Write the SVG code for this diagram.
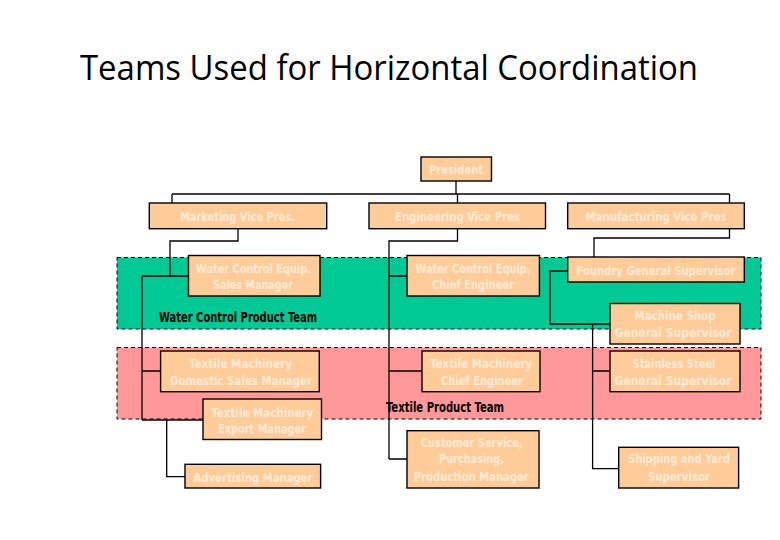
<svg xmlns="http://www.w3.org/2000/svg" width="780" height="540" viewBox="0 0 780 540">
<style>
.bg{fill:#ffffff}
.band{stroke:#000;stroke-width:1;stroke-dasharray:4 3}
.green{fill:#00C995}
.pink{fill:#FF9999}
.box{fill:#FFCC99;stroke:#000;stroke-width:1.4}
.bt{font-family:"Liberation Sans Narrow","DejaVu Sans Condensed","Liberation Sans",sans-serif;font-weight:bold;font-size:13px;fill:#FFEAD6;text-anchor:middle}
.lbl{font-family:"Liberation Sans Narrow","DejaVu Sans Condensed","Liberation Sans",sans-serif;font-weight:bold;font-size:14px;fill:#000}
.title{font-family:"Open Sans","Liberation Sans",sans-serif;font-size:34px;fill:#000}
.conn{fill:none;stroke:#000;stroke-width:1.3}
</style>
<rect class="bg" x="0" y="0" width="780" height="540"/>
<text class="title" x="80" y="80" textLength="618" lengthAdjust="spacingAndGlyphs">Teams Used for Horizontal Coordination</text>

<g id="bands">
<rect id="water-band" class="band green" x="117" y="257.5" width="644" height="71.5"/>
<rect id="textile-band" class="band pink" x="117" y="347.5" width="644" height="71.5"/>
</g>

<g id="team-labels">
<text class="lbl" x="159" y="322" textLength="158" lengthAdjust="spacingAndGlyphs">Water Control Product Team</text>
<text class="lbl" x="386" y="412" textLength="118" lengthAdjust="spacingAndGlyphs">Textile Product Team</text>
</g>

<g id="connectors">
<path class="conn" d="M456 181V194M172 194H729.5M172 194V203M457.5 194V203M729.5 194V203"/>
<path class="conn" d="M238 229V241H170V276M142 276H188.5M142 276V420M142 371H160.6M142 420H203M166.7 420V476.7H185"/>
<path class="conn" d="M457.5 229V241H389V459M389 276H407M389 371H422M389 459H407"/>
<path class="conn" d="M729.5 229V238H594V257M568 271H550V324H610M592.6 324V468.7H618.7M592.6 371H610"/>
</g>

<g id="president">
<rect class="box" x="421" y="157" width="70.5" height="24"/>
<text class="bt" x="456" y="173.5" textLength="54" lengthAdjust="spacingAndGlyphs">President</text>
</g>
<g id="marketing-vp">
<rect class="box" x="149.3" y="203" width="177.4" height="25.7"/>
<text class="bt" x="237.5" y="220.5" textLength="115" lengthAdjust="spacingAndGlyphs">Marketing Vice Pres.</text>
</g>
<g id="engineering-vp">
<rect class="box" x="369" y="203" width="176.5" height="25.7"/>
<text class="bt" x="457.5" y="220.5" textLength="125" lengthAdjust="spacingAndGlyphs">Engineering Vice Pres</text>
</g>
<g id="manufacturing-vp">
<rect class="box" x="567.7" y="203" width="176.6" height="25.7"/>
<text class="bt" x="656" y="220.5" textLength="141" lengthAdjust="spacingAndGlyphs">Manufacturing Vice Pres</text>
</g>

<g id="wc-sales">
<rect class="box" x="188.5" y="255.5" width="131.5" height="40.5"/>
<text class="bt" x="253.5" y="272.7" textLength="115" lengthAdjust="spacingAndGlyphs">Water Control Equip.</text>
<text class="bt" x="253" y="289.2" textLength="80" lengthAdjust="spacingAndGlyphs">Sales Manager</text>
</g>
<g id="wc-chief">
<rect class="box" x="407" y="255.5" width="132.4" height="40.5"/>
<text class="bt" x="473" y="272.7" textLength="115" lengthAdjust="spacingAndGlyphs">Water Control Equip.</text>
<text class="bt" x="473" y="289.2" textLength="82" lengthAdjust="spacingAndGlyphs">Chief Engineer</text>
</g>
<g id="foundry">
<rect class="box" x="567.7" y="257" width="176.6" height="25"/>
<text class="bt" x="656" y="275" textLength="159" lengthAdjust="spacingAndGlyphs">Foundry General Supervisor</text>
</g>
<g id="machine-shop">
<rect class="box" x="610" y="303.5" width="130" height="40.5"/>
<text class="bt" x="675" y="320.3" textLength="81" lengthAdjust="spacingAndGlyphs">Machine Shop</text>
<text class="bt" x="673" y="336.8" textLength="117" lengthAdjust="spacingAndGlyphs">General Supervisor</text>
</g>

<g id="tm-domestic">
<rect class="box" x="160.6" y="351" width="158.7" height="40.7"/>
<text class="bt" x="240.5" y="368.3" textLength="103" lengthAdjust="spacingAndGlyphs">Textile Machinery</text>
<text class="bt" x="241" y="385" textLength="142" lengthAdjust="spacingAndGlyphs">Domestic Sales Manager</text>
</g>
<g id="tm-chief">
<rect class="box" x="422" y="351" width="118" height="40.7"/>
<text class="bt" x="481" y="368.3" textLength="102" lengthAdjust="spacingAndGlyphs">Textile Machinery</text>
<text class="bt" x="482" y="385" textLength="82" lengthAdjust="spacingAndGlyphs">Chief Engineer</text>
</g>
<g id="stainless">
<rect class="box" x="610" y="351" width="130" height="40.7"/>
<text class="bt" x="674" y="368.3" textLength="83" lengthAdjust="spacingAndGlyphs">Stainless Steel</text>
<text class="bt" x="673" y="385" textLength="117" lengthAdjust="spacingAndGlyphs">General Supervisor</text>
</g>
<g id="tm-export">
<rect class="box" x="203" y="399" width="118.5" height="40.5"/>
<text class="bt" x="262.3" y="416.5" textLength="102" lengthAdjust="spacingAndGlyphs">Textile Machinery</text>
<text class="bt" x="262" y="433" textLength="88" lengthAdjust="spacingAndGlyphs">Export Manager</text>
</g>
<g id="customer-service">
<rect class="box" x="407" y="430.7" width="132" height="57.3"/>
<text class="bt" x="471.7" y="446.7" textLength="102" lengthAdjust="spacingAndGlyphs">Customer Service,</text>
<text class="bt" x="471.5" y="463.3" textLength="65" lengthAdjust="spacingAndGlyphs">Purchasing,</text>
<text class="bt" x="471.3" y="480.7" textLength="115" lengthAdjust="spacingAndGlyphs">Production Manager</text>
</g>
<g id="advertising">
<rect class="box" x="185" y="464.3" width="135.6" height="23.7"/>
<text class="bt" x="253" y="481.5" textLength="119" lengthAdjust="spacingAndGlyphs">Advertising Manager</text>
</g>
<g id="shipping">
<rect class="box" x="618.7" y="447.3" width="119.9" height="40.7"/>
<text class="bt" x="679" y="463.3" textLength="102" lengthAdjust="spacingAndGlyphs">Shipping and Yard</text>
<text class="bt" x="679" y="480.7" textLength="62" lengthAdjust="spacingAndGlyphs">Supervisor</text>
</g>
</svg>
